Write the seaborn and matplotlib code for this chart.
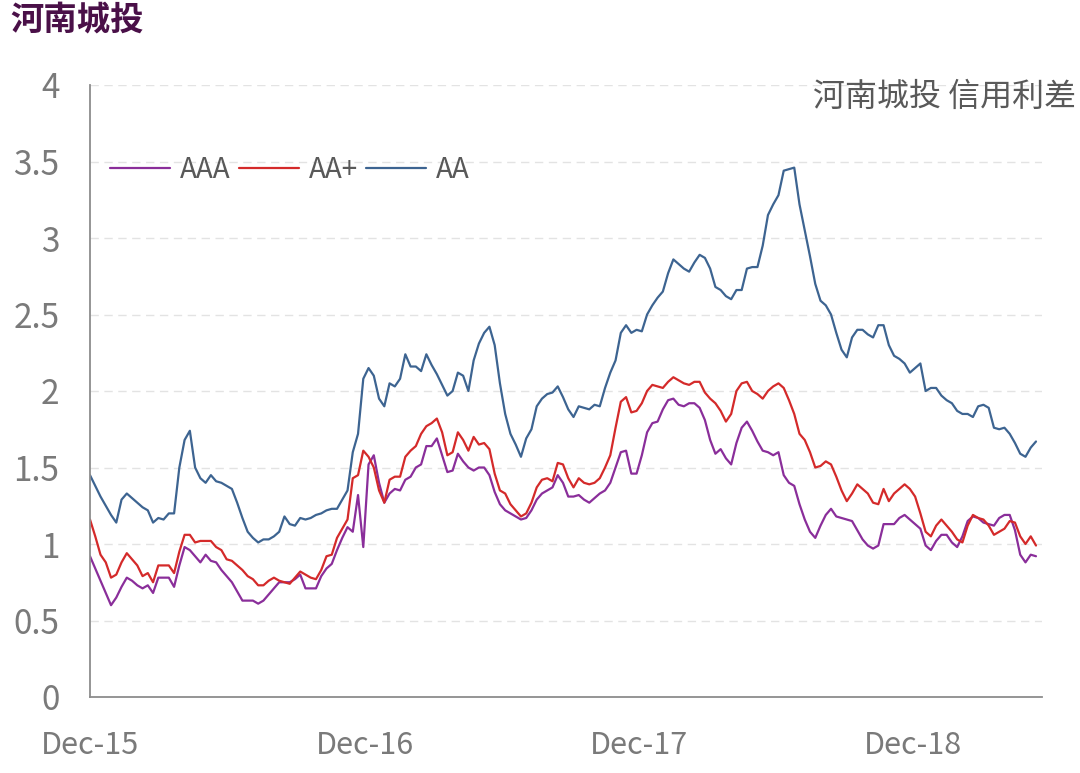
import numpy as np
import pandas as pd
import matplotlib
matplotlib.use("Agg")
import matplotlib.pyplot as plt
from matplotlib.lines import Line2D
import seaborn as sns

start_date = "2015-12-04"
n_weeks = 181

aaa = [0.92,0.84,0.76,0.68,0.60,0.65,0.72,0.78,0.76,0.73,0.71,0.73,0.68,0.78,0.78,0.78,0.72,0.86,0.98,0.96,
       0.92,0.88,0.93,0.89,0.88,0.83,0.79,0.75,0.69,0.63,0.63,0.63,0.61,0.63,0.67,0.71,0.75,0.75,0.75,0.77,
       0.80,0.71,0.71,0.71,0.79,0.84,0.87,0.96,1.04,1.11,1.08,1.32,0.98,1.52,1.58,1.40,1.27,1.33,1.36,1.35,
       1.42,1.44,1.50,1.52,1.64,1.64,1.69,1.58,1.47,1.48,1.59,1.54,1.50,1.48,1.50,1.50,1.45,1.34,1.26,1.22,
       1.20,1.18,1.16,1.17,1.22,1.29,1.33,1.35,1.37,1.45,1.40,1.31,1.31,1.32,1.29,1.27,1.30,1.33,1.35,1.40,
       1.50,1.60,1.61,1.46,1.46,1.58,1.73,1.79,1.80,1.88,1.94,1.95,1.91,1.90,1.92,1.92,1.89,1.81,1.68,1.59,
       1.62,1.56,1.52,1.66,1.76,1.80,1.74,1.67,1.61,1.60,1.58,1.60,1.45,1.40,1.38,1.26,1.16,1.08,1.04,1.12,
       1.19,1.23,1.18,1.17,1.16,1.15,1.09,1.03,0.99,0.97,0.99,1.13,1.13,1.13,1.17,1.19,1.16,1.13,1.10,0.99,
       0.96,1.02,1.06,1.06,1.01,0.98,1.05,1.15,1.18,1.17,1.14,1.13,1.12,1.17,1.19,1.19,1.09,0.93,0.88,0.93,
       0.92]

aa_plus = [1.16,1.05,0.93,0.88,0.78,0.80,0.88,0.94,0.90,0.86,0.79,0.81,0.75,0.86,0.86,0.86,0.81,0.95,1.06,1.06,
           1.01,1.02,1.02,1.02,0.98,0.96,0.90,0.89,0.86,0.83,0.79,0.77,0.73,0.73,0.76,0.78,0.76,0.75,0.74,0.78,
           0.82,0.80,0.78,0.77,0.83,0.92,0.93,1.04,1.10,1.16,1.43,1.45,1.61,1.57,1.50,1.35,1.27,1.42,1.44,1.44,
           1.57,1.61,1.64,1.72,1.77,1.79,1.82,1.73,1.58,1.60,1.73,1.68,1.61,1.70,1.65,1.66,1.62,1.46,1.35,1.33,
           1.26,1.22,1.18,1.20,1.27,1.37,1.42,1.43,1.41,1.53,1.52,1.43,1.37,1.43,1.40,1.39,1.40,1.43,1.50,1.58,
           1.76,1.93,1.96,1.86,1.87,1.92,2.00,2.04,2.03,2.02,2.06,2.09,2.07,2.05,2.04,2.06,2.06,1.99,1.95,1.92,
           1.87,1.80,1.85,2.00,2.05,2.06,2.00,1.98,1.95,2.00,2.03,2.05,2.02,1.94,1.85,1.72,1.68,1.60,1.50,1.51,
           1.54,1.52,1.44,1.35,1.28,1.33,1.39,1.36,1.33,1.27,1.26,1.36,1.28,1.33,1.36,1.39,1.36,1.31,1.20,1.08,
           1.05,1.12,1.16,1.12,1.08,1.03,1.01,1.12,1.19,1.17,1.16,1.12,1.06,1.08,1.10,1.15,1.14,1.05,1.00,1.05,
           0.99]

aa = [1.45,1.38,1.31,1.25,1.19,1.14,1.29,1.33,1.30,1.27,1.24,1.22,1.14,1.17,1.16,1.20,1.20,1.50,1.68,1.74,
      1.50,1.43,1.40,1.45,1.41,1.40,1.38,1.36,1.27,1.17,1.08,1.04,1.01,1.03,1.03,1.05,1.08,1.18,1.13,1.12,
      1.17,1.16,1.17,1.19,1.20,1.22,1.23,1.23,1.29,1.35,1.60,1.72,2.08,2.15,2.10,1.95,1.90,2.05,2.03,2.08,
      2.24,2.16,2.16,2.13,2.24,2.17,2.11,2.04,1.97,2.00,2.12,2.10,2.00,2.20,2.31,2.38,2.42,2.30,2.05,1.85,
      1.72,1.65,1.57,1.69,1.75,1.90,1.95,1.98,1.99,2.03,1.96,1.88,1.83,1.90,1.89,1.88,1.91,1.90,2.02,2.12,
      2.20,2.38,2.43,2.38,2.40,2.39,2.50,2.56,2.61,2.65,2.77,2.86,2.83,2.80,2.78,2.84,2.89,2.87,2.80,2.68,
      2.66,2.62,2.60,2.66,2.66,2.80,2.81,2.81,2.95,3.15,3.22,3.28,3.44,3.45,3.46,3.22,3.05,2.88,2.70,2.59,
      2.56,2.50,2.38,2.27,2.22,2.35,2.40,2.40,2.37,2.35,2.43,2.43,2.30,2.23,2.21,2.18,2.12,2.15,2.18,2.00,
      2.02,2.02,1.97,1.94,1.92,1.87,1.85,1.85,1.83,1.90,1.91,1.89,1.76,1.75,1.76,1.72,1.66,1.59,1.57,1.63,
      1.67]

series_names = ["AAA", "AA+", "AA"]
series_colors = ["#8A2E9A", "#D42A2A", "#3D6491"]
y_ticks = [0, 0.5, 1, 1.5, 2, 2.5, 3, 3.5, 4]
y_tick_labels = ["0", "0.5", "1", "1.5", "2", "2.5", "3", "3.5", "4"]
x_tick_dates = ["2015-12-04", "2016-12-04", "2017-12-04", "2018-12-04"]
x_tick_labels = ["Dec-15", "Dec-16", "Dec-17", "Dec-18"]
title_text = "河南城投"
note_text = "河南城投 信用利差"

dates = pd.date_range(start_date, periods=n_weeks, freq="7D")
df = pd.DataFrame({"date": dates, "AAA": aaa, "AA+": aa_plus, "AA": aa})
long = df.melt(id_vars="date", var_name="grade", value_name="spread")

sns.set_theme(style="white")
plt.rcParams["font.family"] = ["Noto Sans CJK SC", "DejaVu Sans"]

fig = plt.figure(figsize=(10.8, 7.73), dpi=100)
ax = fig.add_axes([90/1080, 1-697/773, (1042-90)/1080, (697-85)/773])

sns.lineplot(data=long, x="date", y="spread", hue="grade", hue_order=series_names,
             palette=dict(zip(series_names, series_colors)), linewidth=1.6, ax=ax, legend=False)

ax.set_ylim(0, 4)
ax.set_xlim(pd.Timestamp(start_date), pd.Timestamp(start_date) + pd.Timedelta(days=1268))
ax.set_yticks(y_ticks)
ax.set_yticklabels(y_tick_labels)
ax.set_xticks([pd.Timestamp(d) for d in x_tick_dates])
ax.set_xticklabels(x_tick_labels)
ax.set_xlabel("")
ax.set_ylabel("")

for yv in y_ticks[1:]:
    ax.axhline(yv, color="#E3E3E3", linewidth=1.0, linestyle=(0, (6, 4)), zorder=0)

for s in ["top", "right"]:
    ax.spines[s].set_visible(False)
for s in ["left", "bottom"]:
    ax.spines[s].set_color("#8C8C8C")
    ax.spines[s].set_linewidth(1.3)

ax.tick_params(axis="y", direction="in", length=10, width=1.3, color="#8C8C8C",
               labelsize=24, labelcolor="#7A7A7A", pad=22)
ax.tick_params(axis="x", direction="in", length=10, width=1.3, color="#8C8C8C",
               labelsize=22, labelcolor="#7A7A7A", pad=24)

handles = [Line2D([0], [0], color=c, linewidth=1.6) for c in series_colors]
ax.legend(handles, series_names, loc="center left", bbox_to_anchor=(0.021, 0.861), ncol=3,
          frameon=False, fontsize=20, handlelength=2.16, handletextpad=0.36, columnspacing=0.29,
          borderpad=0, borderaxespad=0, labelcolor="#595959")

fig.text(10/1080, 1-20/773, title_text, fontsize=24, fontweight="bold", color="#4A1048",
         ha="left", va="center")
fig.text(1076/1080, 1-97/773, note_text, fontsize=23, color="#595959", ha="right", va="center")

fig.savefig("out.png", dpi=100)
